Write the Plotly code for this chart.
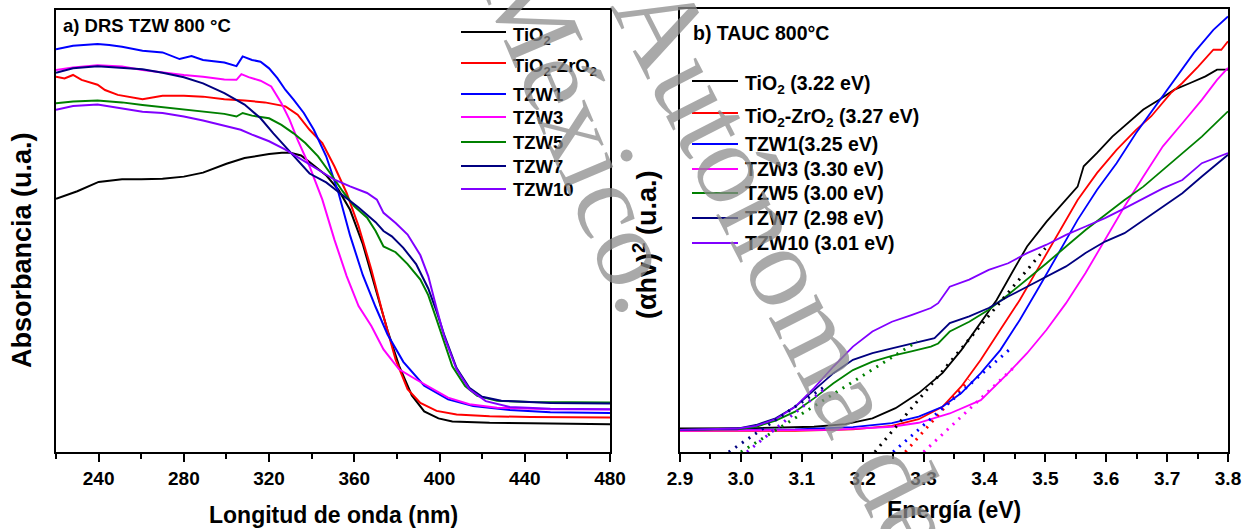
import plotly.graph_objects as go

# ---------------- Panel a: DRS (wavelength nm vs absorbance, a.u.) ----------------
tio2_x = [220, 230, 240, 251, 260, 270, 280, 289, 300, 308.5, 320, 326, 330, 335, 340, 347, 352.6, 358, 364, 370, 375.6, 381, 387, 392.8, 399.5, 406, 423.5, 442.6, 480]
tio2_y = [0.573, 0.590, 0.611, 0.617, 0.617, 0.618, 0.623, 0.632, 0.652, 0.665, 0.674, 0.677, 0.677, 0.671, 0.652, 0.625, 0.593, 0.548, 0.470, 0.372, 0.275, 0.195, 0.128, 0.092, 0.076, 0.069, 0.066, 0.065, 0.063]

tz_x = [220, 224, 228, 232, 239.5, 243, 249, 255, 260.6, 270, 280, 289, 299, 308.5, 318, 327.7, 333.4, 339, 345, 350.7, 356.4, 362, 368, 373.7, 379.4, 385, 391, 398.6, 408, 423.5, 442.6, 480]
tz_y = [0.849, 0.845, 0.853, 0.842, 0.831, 0.819, 0.808, 0.803, 0.798, 0.806, 0.806, 0.804, 0.798, 0.795, 0.791, 0.782, 0.763, 0.729, 0.699, 0.646, 0.586, 0.511, 0.413, 0.307, 0.209, 0.142, 0.111, 0.093, 0.085, 0.081, 0.079, 0.078]

tzw1_x = [220, 228, 239.5, 245, 251, 260.6, 270, 278, 283.6, 289, 299, 304.7, 307.6, 312, 316, 320, 323.9, 327.7, 331.5, 336.3, 341, 346.8, 352.6, 358, 364, 370, 375.6, 383, 392.8, 404, 415.8, 433, 452, 480]
tzw1_y = [0.911, 0.919, 0.923, 0.921, 0.917, 0.908, 0.904, 0.889, 0.896, 0.887, 0.881, 0.873, 0.895, 0.887, 0.883, 0.868, 0.846, 0.819, 0.797, 0.767, 0.729, 0.669, 0.586, 0.490, 0.400, 0.328, 0.266, 0.204, 0.150, 0.119, 0.104, 0.095, 0.090, 0.088]

tzw3_x = [220, 228, 239.5, 251, 260.6, 270, 280, 289, 299, 304.7, 307, 310.4, 316, 321, 325.8, 329.6, 333.4, 339, 345, 350.7, 356.4, 362, 368, 373.7, 381, 389, 396.7, 404, 414, 427, 452, 480]
tzw3_y = [0.864, 0.870, 0.875, 0.872, 0.864, 0.858, 0.853, 0.849, 0.843, 0.842, 0.855, 0.848, 0.840, 0.827, 0.789, 0.752, 0.706, 0.646, 0.571, 0.480, 0.398, 0.330, 0.285, 0.232, 0.187, 0.164, 0.142, 0.123, 0.108, 0.100, 0.097, 0.096]

tzw5_x = [220, 228, 239.5, 251, 260.6, 270, 280, 289, 299, 304.7, 307.6, 312, 320, 325.8, 331.5, 337, 343, 348.8, 354.5, 360, 366, 370, 373.7, 379.4, 385, 391, 394.7, 398.6, 402.4, 406, 412, 417.7, 427, 442.6, 480]
tzw5_y = [0.789, 0.793, 0.795, 0.791, 0.785, 0.780, 0.776, 0.770, 0.765, 0.759, 0.767, 0.761, 0.755, 0.740, 0.721, 0.699, 0.669, 0.630, 0.590, 0.556, 0.530, 0.500, 0.465, 0.452, 0.425, 0.390, 0.355, 0.300, 0.245, 0.194, 0.149, 0.127, 0.116, 0.113, 0.112]

tzw7_x = [220, 228, 239.5, 251, 260.6, 270, 280, 289, 299, 308.5, 316, 322, 327.7, 333.4, 339, 346.8, 354.5, 362, 370, 373.7, 377.6, 383, 389, 394.7, 398.6, 402.4, 408, 414, 420, 429, 452, 480]
tzw7_y = [0.858, 0.868, 0.873, 0.870, 0.866, 0.858, 0.848, 0.834, 0.812, 0.786, 0.755, 0.721, 0.691, 0.661, 0.630, 0.610, 0.582, 0.553, 0.520, 0.500, 0.488, 0.462, 0.425, 0.370, 0.318, 0.262, 0.190, 0.145, 0.125, 0.116, 0.111, 0.110]

tzw10_x = [220, 228, 239.5, 251, 260.6, 270, 280, 289, 299, 306.7, 312, 320, 327.7, 335.3, 343, 350.7, 358, 366, 370.6, 373.7, 379.4, 385, 391, 394.7, 398.6, 402.4, 408, 414, 421.7, 433, 452, 480]
tzw10_y = [0.774, 0.783, 0.786, 0.778, 0.770, 0.767, 0.759, 0.750, 0.738, 0.729, 0.718, 0.703, 0.684, 0.661, 0.639, 0.616, 0.601, 0.586, 0.571, 0.541, 0.518, 0.492, 0.445, 0.398, 0.325, 0.258, 0.187, 0.142, 0.115, 0.102, 0.098, 0.097]

# ---------------- Panel b: Tauc plot (energy eV vs (alpha h v)^2) ----------------
b_tio2_x = [2.9, 3.025, 3.12, 3.172, 3.216, 3.254, 3.292, 3.331, 3.362, 3.394, 3.42, 3.445, 3.47, 3.502, 3.534, 3.553, 3.563, 3.585, 3.61, 3.636, 3.661, 3.687, 3.712, 3.738, 3.763, 3.782, 3.8]
b_tio2_y = [0.053, 0.054, 0.057, 0.063, 0.076, 0.099, 0.133, 0.178, 0.230, 0.291, 0.343, 0.404, 0.464, 0.520, 0.569, 0.599, 0.645, 0.675, 0.712, 0.742, 0.773, 0.795, 0.818, 0.833, 0.848, 0.863, 0.863]

b_tz_x = [2.9, 3.089, 3.184, 3.248, 3.292, 3.331, 3.362, 3.394, 3.426, 3.458, 3.49, 3.521, 3.553, 3.585, 3.617, 3.649, 3.674, 3.706, 3.725, 3.751, 3.776, 3.789, 3.8]
b_tz_y = [0.048, 0.048, 0.051, 0.059, 0.074, 0.102, 0.148, 0.208, 0.276, 0.343, 0.419, 0.494, 0.569, 0.630, 0.682, 0.727, 0.758, 0.810, 0.833, 0.870, 0.908, 0.908, 0.927]

b_tzw1_x = [2.9, 3.089, 3.184, 3.248, 3.292, 3.331, 3.362, 3.394, 3.426, 3.458, 3.49, 3.521, 3.553, 3.585, 3.617, 3.649, 3.68, 3.712, 3.744, 3.776, 3.8]
b_tzw1_y = [0.050, 0.051, 0.056, 0.065, 0.080, 0.102, 0.133, 0.178, 0.230, 0.298, 0.373, 0.449, 0.524, 0.592, 0.652, 0.720, 0.780, 0.840, 0.901, 0.953, 0.983]

b_tzw3_x = [2.9, 3.152, 3.248, 3.292, 3.343, 3.394, 3.439, 3.47, 3.502, 3.534, 3.566, 3.598, 3.63, 3.661, 3.693, 3.725, 3.757, 3.782, 3.8]
b_tzw3_y = [0.048, 0.050, 0.057, 0.066, 0.087, 0.117, 0.178, 0.223, 0.276, 0.336, 0.404, 0.479, 0.554, 0.622, 0.690, 0.742, 0.795, 0.840, 0.867]

b_tzw5_x = [2.9, 2.994, 3.025, 3.057, 3.089, 3.12, 3.152, 3.184, 3.216, 3.248, 3.28, 3.312, 3.324, 3.343, 3.375, 3.407, 3.439, 3.47, 3.502, 3.534, 3.566, 3.598, 3.63, 3.661, 3.693, 3.725, 3.757, 3.8]
b_tzw5_y = [0.050, 0.051, 0.057, 0.071, 0.091, 0.121, 0.155, 0.185, 0.204, 0.217, 0.227, 0.238, 0.245, 0.272, 0.294, 0.321, 0.355, 0.389, 0.426, 0.464, 0.501, 0.535, 0.569, 0.599, 0.637, 0.675, 0.712, 0.769]

b_tzw7_x = [2.9, 2.994, 3.025, 3.057, 3.089, 3.12, 3.152, 3.184, 3.216, 3.248, 3.28, 3.318, 3.343, 3.375, 3.407, 3.439, 3.47, 3.502, 3.534, 3.566, 3.598, 3.63, 3.661, 3.693, 3.725, 3.757, 3.8]
b_tzw7_y = [0.050, 0.053, 0.061, 0.076, 0.102, 0.140, 0.178, 0.208, 0.223, 0.234, 0.245, 0.257, 0.291, 0.306, 0.325, 0.351, 0.373, 0.396, 0.419, 0.449, 0.475, 0.494, 0.524, 0.554, 0.584, 0.622, 0.671]

b_tzw10_x = [2.9, 2.994, 3.025, 3.057, 3.089, 3.12, 3.152, 3.184, 3.216, 3.248, 3.28, 3.312, 3.324, 3.343, 3.375, 3.407, 3.439, 3.47, 3.502, 3.534, 3.566, 3.598, 3.63, 3.661, 3.693, 3.725, 3.757, 3.8]
b_tzw10_y = [0.050, 0.053, 0.059, 0.074, 0.102, 0.144, 0.193, 0.238, 0.272, 0.294, 0.309, 0.325, 0.336, 0.373, 0.389, 0.411, 0.426, 0.449, 0.468, 0.490, 0.509, 0.528, 0.550, 0.573, 0.595, 0.614, 0.652, 0.675]

# Linear (Tauc) fits: [start energy, end energy], [start y, end y]
fit_tio2 = ([3.22, 3.50], [0.0, 0.46])
fit_tz = ([3.27, 3.375], [0.0, 0.163])
fit_tzw1 = ([3.25, 3.44], [0.0, 0.23])
fit_tzw3 = ([3.30, 3.45], [0.0, 0.193])
fit_tzw5 = ([3.00, 3.29], [0.0, 0.25])
fit_tzw7 = ([2.98, 3.14], [0.0, 0.15])
fit_tzw10 = ([3.01, 3.135], [0.0, 0.14])

names_a = ["TiO<sub>2</sub>", "TiO<sub>2</sub>-ZrO<sub>2</sub>", "TZW1", "TZW3", "TZW5", "TZW7", "TZW10"]
names_b = ["TiO<sub>2</sub> (3.22 eV)", "TiO<sub>2</sub>-ZrO<sub>2</sub> (3.27 eV)", "TZW1(3.25 eV)",
           "TZW3 (3.30 eV)", "TZW5 (3.00 eV)", "TZW7 (2.98 eV)", "TZW10 (3.01 eV)"]
colors = ["#000000", "#FF0000", "#0000FF", "#FF00FF", "#008000", "#000080", "#8000FF"]

series_a = [(tio2_x, tio2_y), (tz_x, tz_y), (tzw1_x, tzw1_y), (tzw3_x, tzw3_y),
            (tzw5_x, tzw5_y), (tzw7_x, tzw7_y), (tzw10_x, tzw10_y)]
series_b = [(b_tio2_x, b_tio2_y), (b_tz_x, b_tz_y), (b_tzw1_x, b_tzw1_y), (b_tzw3_x, b_tzw3_y),
            (b_tzw5_x, b_tzw5_y), (b_tzw7_x, b_tzw7_y), (b_tzw10_x, b_tzw10_y)]
fits = [fit_tio2, fit_tz, fit_tzw1, fit_tzw3, fit_tzw5, fit_tzw7, fit_tzw10]

FONT = "Arial, Liberation Sans, sans-serif"
fig = go.Figure()

for (x, y), n, c in zip(series_a, names_a, colors):
    fig.add_trace(go.Scatter(x=x, y=y, mode="lines", name=n, line=dict(color=c, width=2),
                             xaxis="x", yaxis="y", showlegend=False))

for (x, y), n, c in zip(series_b, names_b, colors):
    fig.add_trace(go.Scatter(x=x, y=y, mode="lines", name=n, line=dict(color=c, width=1.8),
                             xaxis="x2", yaxis="y2", showlegend=False))

for (fx, fy), c in zip(fits, colors):
    fig.add_trace(go.Scatter(x=fx, y=fy, mode="lines", showlegend=False,
                             line=dict(color=c, width=3, dash="2px,6px"),
                             xaxis="x2", yaxis="y2"))

W, H = 1248, 529
def px(v): return v / W
def py(v): return 1 - v / H

axis_common = dict(showline=True, linewidth=2, linecolor="black", mirror=True,
                   showgrid=False, zeroline=False, automargin=False)
tickfont = dict(family=FONT, size=19, color="black", weight="bold")

fig.update_layout(
    width=W, height=H, margin=dict(l=0, r=0, t=0, b=0, autoexpand=False),
    plot_bgcolor="white", paper_bgcolor="white", showlegend=False,
    xaxis=dict(domain=[px(56), px(610)], range=[220, 480], tick0=240, dtick=40,
               ticks="outside", ticklen=8, tickwidth=2, tickcolor="black", tickfont=tickfont,
               minor=dict(ticks="outside", ticklen=5, tickwidth=2, tickcolor="black", dtick=20, tick0=220),
               anchor="y", **axis_common),
    yaxis=dict(domain=[py(452), py(10)], range=[0, 1], showticklabels=False, ticks="",
               anchor="x", **axis_common),
    xaxis2=dict(domain=[px(680), px(1228)], range=[2.9, 3.8], tick0=2.9, dtick=0.1, tickformat=".1f",
                ticks="outside", ticklen=8, tickwidth=2, tickcolor="black", tickfont=tickfont,
                minor=dict(ticks="outside", ticklen=5, tickwidth=2, tickcolor="black", dtick=0.05, tick0=2.9),
                anchor="y2", **axis_common),
    yaxis2=dict(domain=[py(452), py(9)], range=[0, 1], showticklabels=False, ticks="",
                anchor="x2", **axis_common),
)

ann = []
shapes = []
# manual legends (line sample + label)
leg_a_rows = [32, 63, 94, 117, 142, 166, 189]
leg_b_rows = [81, 113, 144, 169, 193, 218, 243]
for n, c, r in zip(names_a, colors, leg_a_rows):
    shapes.append(dict(type="line", xref="paper", yref="paper", x0=px(461), x1=px(506), y0=py(r), y1=py(r),
                       line=dict(color=c, width=2)))
    off = 4 if "<sub>" in n else 0
    ann.append(dict(text=n, x=px(511), y=py(r + off), xref="paper", yref="paper", xanchor="left",
                    yanchor="middle", showarrow=False,
                    font=dict(family=FONT, size=18.5, color="black", weight="bold")))
for n, c, r in zip(names_b, colors, leg_b_rows):
    shapes.append(dict(type="line", xref="paper", yref="paper", x0=px(692), x1=px(738), y0=py(r), y1=py(r),
                       line=dict(color=c, width=2)))
    off = 4 if "<sub>" in n else 0
    ann.append(dict(text=n, x=px(743), y=py(r + off), xref="paper", yref="paper", xanchor="left",
                    yanchor="middle", showarrow=False,
                    font=dict(family=FONT, size=19.5, color="black", weight="bold")))

ann.append(dict(text="a) DRS TZW 800 °C", x=px(61), y=py(25), xref="paper", yref="paper",
                xanchor="left", yanchor="middle", showarrow=False,
                font=dict(family=FONT, size=18.5, color="black", weight="bold")))
ann.append(dict(text="b) TAUC 800°C", x=px(691), y=py(33), xref="paper", yref="paper",
                xanchor="left", yanchor="middle", showarrow=False,
                font=dict(family=FONT, size=19.5, color="black", weight="bold")))
ann.append(dict(text="Longitud de onda (nm)", x=px(333), y=py(515), xref="paper", yref="paper",
                xanchor="center", yanchor="middle", showarrow=False,
                font=dict(family=FONT, size=23, color="black", weight="bold")))
ann.append(dict(text="Energía (eV)", x=px(954), y=py(510), xref="paper", yref="paper",
                xanchor="center", yanchor="middle", showarrow=False,
                font=dict(family=FONT, size=23, color="black", weight="bold")))
ann.append(dict(text="Absorbancia (u.a.)", x=px(22), y=py(250), xref="paper", yref="paper",
                xanchor="center", yanchor="middle", showarrow=False, textangle=-90,
                font=dict(family=FONT, size=27, color="black", weight="bold")))
ann.append(dict(text="(αhv)<sup>2</sup> (u.a.)", x=px(645), y=py(245), xref="paper", yref="paper",
                xanchor="center", yanchor="middle", showarrow=False, textangle=-90,
                font=dict(family=FONT, size=27, color="black", weight="bold")))
# watermark
ann.append(dict(text="México.", x=px(585), y=py(135), xref="paper", yref="paper",
                xanchor="center", yanchor="middle", showarrow=False, textangle=67,
                font=dict(family="Liberation Serif, DejaVu Serif, serif", size=112, color="rgba(140,140,140,0.75)")))
ann.append(dict(text="Autónoma de", x=px(787), y=py(268), xref="paper", yref="paper",
                xanchor="center", yanchor="middle", showarrow=False, textangle=63,
                font=dict(family="Liberation Serif, DejaVu Serif, serif", size=116, color="rgba(140,140,140,0.75)")))
fig.update_layout(annotations=ann, shapes=shapes)

fig.write_html("out.html")
